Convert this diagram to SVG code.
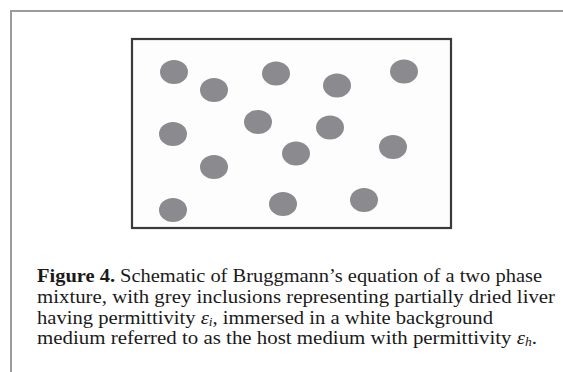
<svg xmlns="http://www.w3.org/2000/svg" width="563" height="372" viewBox="0 0 563 372">
<style>
.frame{stroke:#9c9c9c;stroke-width:2;fill:none}
.box{fill:#fdfdfd;stroke:#3a3a3a;stroke-width:2.2}
.inc{fill:#8b8b8f}
.cap{font-family:"Liberation Serif","Times New Roman",serif;font-size:18.5px;fill:#1a1a1a}
.b{font-weight:bold}
.e{font-style:italic}
.s{font-style:italic;font-size:12px}
</style>
<rect width="563" height="372" fill="#ffffff"/>
<path class="frame" d="M11 372 V11 H563"/>
<g id="mixture">
<rect class="box" x="132" y="39" width="319" height="189"/>
<ellipse class="inc" cx="174" cy="72" rx="14" ry="12"/>
<ellipse class="inc" cx="214" cy="90" rx="14" ry="12"/>
<ellipse class="inc" cx="276" cy="73.5" rx="14" ry="12"/>
<ellipse class="inc" cx="337" cy="85.5" rx="14" ry="12"/>
<ellipse class="inc" cx="404" cy="71.5" rx="14" ry="12"/>
<ellipse class="inc" cx="173" cy="134" rx="14" ry="12"/>
<ellipse class="inc" cx="258" cy="122" rx="14" ry="12"/>
<ellipse class="inc" cx="330" cy="127.5" rx="14" ry="12"/>
<ellipse class="inc" cx="214" cy="167" rx="14" ry="12"/>
<ellipse class="inc" cx="296" cy="153.5" rx="14" ry="12"/>
<ellipse class="inc" cx="393" cy="147" rx="14" ry="12"/>
<ellipse class="inc" cx="173" cy="210" rx="14" ry="12"/>
<ellipse class="inc" cx="283" cy="204" rx="14" ry="12"/>
<ellipse class="inc" cx="364" cy="200" rx="14" ry="12"/>
</g>
<g id="caption" class="cap">
<text x="37" y="282" textLength="505" lengthAdjust="spacingAndGlyphs"><tspan class="b">Figure 4.</tspan> Schematic of Bruggmann’s equation of a two phase</text>
<text x="37" y="303" textLength="518" lengthAdjust="spacingAndGlyphs">mixture, with grey inclusions representing partially dried liver</text>
<text x="37" y="323.5" textLength="456" lengthAdjust="spacingAndGlyphs">having permittivity <tspan class="e">ε</tspan><tspan class="s" dy="2">i</tspan><tspan dy="-2">, immersed in a white background</tspan></text>
<text x="37" y="344" textLength="500" lengthAdjust="spacingAndGlyphs">medium referred to as the host medium with permittivity <tspan class="e">ε</tspan><tspan class="s" dy="2">h</tspan><tspan dy="-2">.</tspan></text>
</g>
</svg>
